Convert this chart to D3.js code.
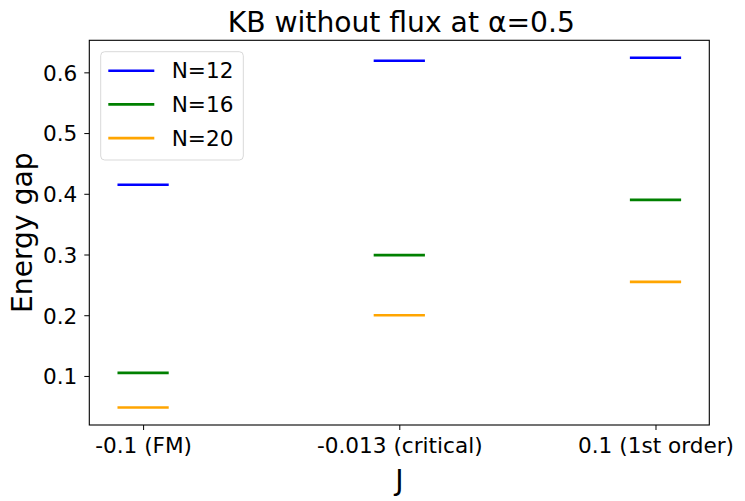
<!DOCTYPE html>
<html>
<head>
<meta charset="utf-8">
<script src="https://cdn.jsdelivr.net/npm/d3@7"></script>
<style>
  body { margin: 0; background: #fff; }
  svg { display: block; font-family: 'DejaVu Sans', sans-serif; }
</style>
</head>
<body>
<script>
/* global d3 */
const categories = ['-0.1 (FM)', '-0.013 (critical)', '0.1 (1st order)'];
const seriesNames = ['N=12', 'N=16', 'N=20'];
const seriesColors = ['#0000ff', '#008000', '#ffa500'];
const gapN12 = [0.415, 0.619, 0.624];
const gapN16 = [0.105, 0.299, 0.390];
const gapN20 = [0.048, 0.200, 0.255];
const yTicks = [0.1, 0.2, 0.3, 0.4, 0.5, 0.6];

(function() {
  'use strict';

  const w = 745;
  const h = 501;
  const margin = {top: 40.3, right: 35.7, bottom: 76, left: 89.3};
  const halfWidth = 0.1;

  const series = [gapN12, gapN16, gapN20].map((vals, k) => ({
    name: seriesNames[k],
    color: seriesColors[k],
    values: vals
  }));

  // x: category index, with matplotlib-style 5% margins
  const xMin = -halfWidth;
  const xMax = categories.length - 1 + halfWidth;
  const xPad = (xMax - xMin) * 0.05;
  const xScale =
    d3.scaleLinear()
      .domain([xMin - xPad, xMax + xPad])
      .range([margin.left, w - margin.right]);

  const allVals = series.flatMap(s => s.values);
  const yLo = d3.min(allVals);
  const yHi = d3.max(allVals);
  const yPad = (yHi - yLo) * 0.05;
  const yScale =
    d3.scaleLinear()
      .domain([yLo - yPad, yHi + yPad])
      .range([h - margin.bottom, margin.top]);

  const svg =
    d3.select('body')
      .append('svg')
      .attr('width', w)
      .attr('height', h);

  // horizontal gap segments
  series.forEach(s => {
    svg.append('g')
      .selectAll('line')
      .data(s.values)
      .enter()
      .append('line')
      .attr('x1', (d, i) => xScale(i - halfWidth))
      .attr('x2', (d, i) => xScale(i + halfWidth))
      .attr('y1', d => yScale(d))
      .attr('y2', d => yScale(d))
      .attr('stroke', s.color)
      .attr('stroke-width', 2.6);
  });

  // axes
  const xAxis = d3.axisBottom(xScale)
    .tickValues(d3.range(categories.length))
    .tickFormat(i => categories[i])
    .tickSize(5)
    .tickPadding(8);
  const gx = svg.append('g')
    .attr('transform', 'translate(0,' + (h - margin.bottom) + ')')
    .call(xAxis);

  const yAxis = d3.axisLeft(yScale)
    .tickValues(yTicks)
    .tickFormat(d3.format('.1f'))
    .tickSize(5)
    .tickPadding(7);
  const gy = svg.append('g')
    .attr('transform', 'translate(' + margin.left + ',0)')
    .call(yAxis);

  [gx, gy].forEach(g => {
    g.select('.domain').remove();
    g.selectAll('line').attr('stroke', '#000').attr('stroke-width', 1);
    g.selectAll('text')
      .attr('fill', '#000')
      .style('font-family', 'DejaVu Sans')
      .style('font-size', '21.6px');
  });
  gy.selectAll('text').attr('dy', '0.36em');

  // frame
  svg.append('rect')
    .attr('x', margin.left)
    .attr('y', margin.top)
    .attr('width', w - margin.left - margin.right)
    .attr('height', h - margin.top - margin.bottom)
    .attr('fill', 'none')
    .attr('stroke', '#000')
    .attr('stroke-width', 1.1);

  // title and labels
  svg.append('text')
    .attr('x', (margin.left + w - margin.right) / 2 + 2)
    .attr('y', 31.5)
    .attr('text-anchor', 'middle')
    .style('font-size', '28.2px')
    .text('KB without flux at α=0.5');

  svg.append('text')
    .attr('x', (margin.left + w - margin.right) / 2)
    .attr('y', 490)
    .attr('text-anchor', 'middle')
    .style('font-size', '28.2px')
    .text('J');

  svg.append('text')
    .attr('transform', 'translate(32.3,' + ((margin.top + h - margin.bottom) / 2) + ') rotate(-90)')
    .attr('text-anchor', 'middle')
    .style('font-size', '28.2px')
    .text('Energy gap');

  // legend
  const legend = svg.append('g');
  legend.append('rect')
    .attr('x', 100.7)
    .attr('y', 51.7)
    .attr('width', 142.6)
    .attr('height', 108.3)
    .attr('rx', 4)
    .attr('fill', '#fff')
    .attr('fill-opacity', 0.8)
    .attr('stroke', '#d9d9d9')
    .attr('stroke-width', 1);

  const rows = legend.selectAll('g.row')
    .data(series)
    .enter()
    .append('g')
    .attr('class', 'row')
    .attr('transform', (d, i) => 'translate(0,' + (70.7 + i * 33.7) + ')');

  rows.append('line')
    .attr('x1', 108.3)
    .attr('x2', 154.3)
    .attr('stroke', d => d.color)
    .attr('stroke-width', 2.6);

  rows.append('text')
    .attr('x', 171.7)
    .attr('dy', '0.36em')
    .style('font-size', '21.6px')
    .text(d => d.name);
}());
</script>
</body>
</html>
